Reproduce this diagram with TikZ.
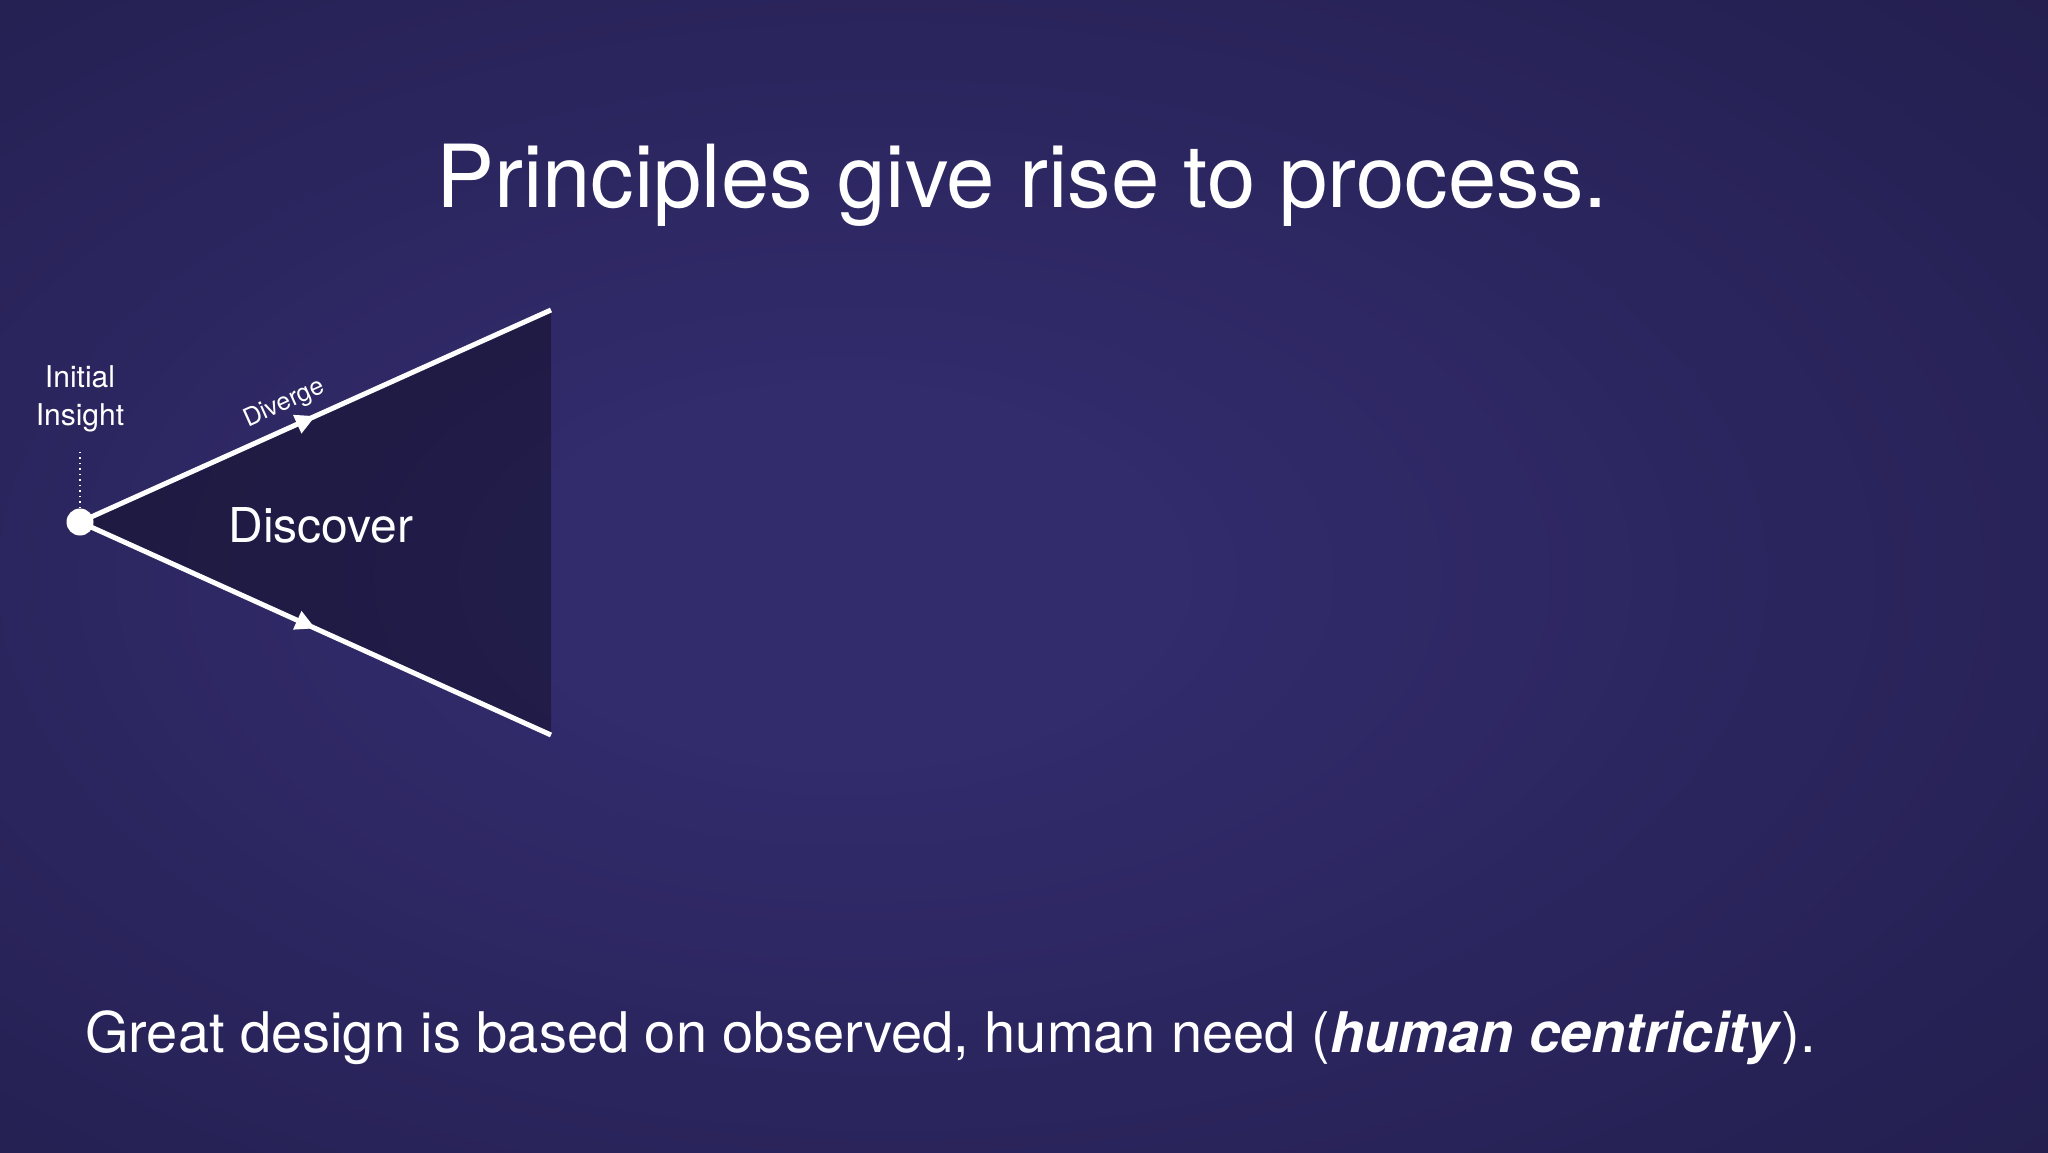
\documentclass[tikz,border=0pt]{standalone}
\usepackage{fontspec}
\setmainfont{TeX Gyre Heros}
\usetikzlibrary{arrows.meta,decorations.markings}
\definecolor{bgin}{HTML}{322B6C}
\definecolor{bgout}{HTML}{1D1A42}
\pgfdeclareradialshading{bgglow}{\pgfpoint{-5bp}{0bp}}{color(0bp)=(bgin); color(8bp)=(bgin); color(50bp)=(bgout); color(70bp)=(bgout)}
\tikzset{
  slidetext/.style={text=white, inner sep=0pt},
  flowline/.style={draw=white, line width=5pt, postaction={decorate},
    decoration={markings, mark=at position 0.5 with {\arrow{Triangle[length=20pt,width=19pt]}}}},
  insightdot/.style={circle, fill=white, minimum size=27pt, inner sep=0pt},
  tickline/.style={draw=white, line width=1.5pt, dash pattern=on 1.5pt off 4pt}
}
\begin{document}
\begin{tikzpicture}[x=1pt, y=-1pt]
\useasboundingbox (0,0) rectangle (2048,1152);
\shade[shading=bgglow] (0,0) rectangle (2048,1152);
\coordinate (apex) at (80,522);
\coordinate (topend) at (551,310);
\coordinate (botend) at (551,735);
\coordinate (tick) at (80,451);
\fill[black, opacity=0.32] (apex) -- (topend) -- (botend) -- cycle;
\node[insightdot] (seed) at (apex) {};
\draw[flowline] (seed.center) -- (topend);
\draw[flowline] (seed.center) -- (botend);
\draw[tickline] (seed) -- (tick);
\node[slidetext, font=\fontsize{30}{38}\selectfont, align=center] (insight) at (80,399) {Initial\\Insight};
\path (seed) -- (topend) node[slidetext, pos=0.44, sloped, above=12pt, font=\fontsize{25}{30}\selectfont] (diverge) {Diverge};
\node[slidetext, font=\fontsize{48}{58}\selectfont, anchor=base] (discover) at (321,542) {Discover};
\node[slidetext, font=\fontsize{87}{100}\selectfont, anchor=base] (title) at (1022,207) {Principles give rise to process.};
\node[slidetext, font=\fontsize{56}{67}\selectfont, anchor=base west] (needline) at (85,1052) {Great design is based on observed, human need (\textbf{\textit{human centricity}}).};
\end{tikzpicture}
\end{document}
